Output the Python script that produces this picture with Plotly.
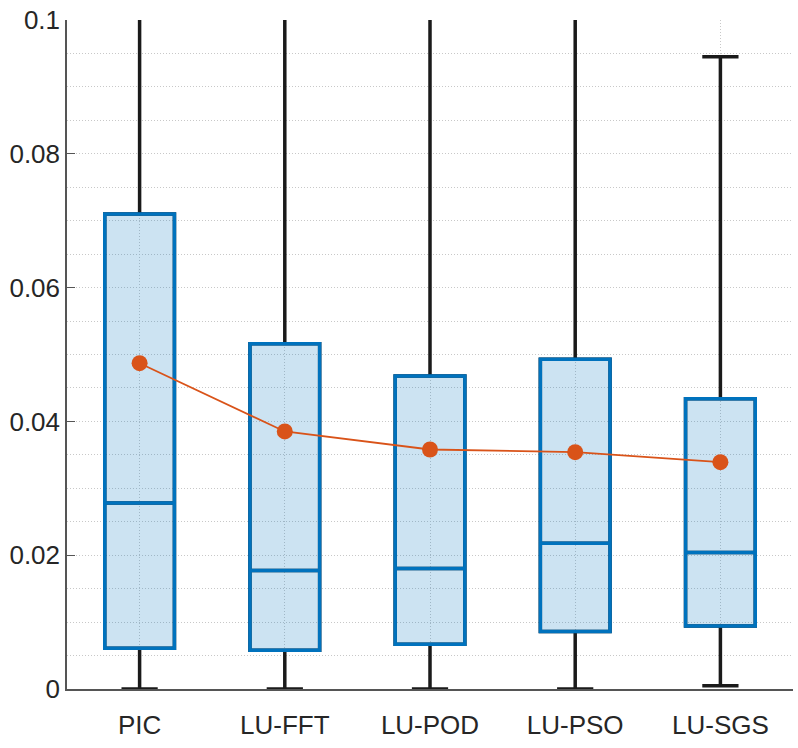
import plotly.graph_objects as go

# Solver variants and their error statistics
methods = ["PIC", "LU-FFT", "LU-POD", "LU-PSO", "LU-SGS"]
q1 = [0.0061, 0.0058, 0.0067, 0.0086, 0.0094]
median = [0.0278, 0.0177, 0.0180, 0.0218, 0.0204]
q3 = [0.0710, 0.0516, 0.0468, 0.0493, 0.0434]
lower_whisker = [0.0, 0.0, 0.0, 0.0, 0.0005]
upper_whisker = [0.135, 0.125, 0.118, 0.122, 0.0945]
mean = [0.0487, 0.0385, 0.0358, 0.0354, 0.0339]

y_ticks = [0, 0.02, 0.04, 0.06, 0.08, 0.1]
y_tick_text = ["0", "0.02", "0.04", "0.06", "0.08", "0.1"]

xpos = list(range(1, len(methods) + 1))

BLUE = "#0072BD"
ORANGE = "#D95319"
FONT = "Liberation Sans, Arial, sans-serif"

fig = go.Figure()

# Black whiskers and caps (box body left transparent)
fig.add_trace(go.Box(
    x=xpos, q1=q1, median=median, q3=q3,
    lowerfence=lower_whisker, upperfence=upper_whisker,
    width=0.48, whiskerwidth=0.52,
    line=dict(color="#1a1a1a", width=3.5),
    fillcolor="rgba(0,0,0,0)",
    hoverinfo="skip", showlegend=False,
))

# Blue boxes with translucent fill on top
fig.add_trace(go.Box(
    x=xpos, q1=q1, median=median, q3=q3,
    lowerfence=q1, upperfence=q3,
    width=0.48, whiskerwidth=0,
    line=dict(color=BLUE, width=3.5),
    fillcolor="rgba(0,114,189,0.2)",
    showlegend=False,
))

# Mean values joined by a line
fig.add_trace(go.Scatter(
    x=xpos, y=mean, mode="lines+markers",
    line=dict(color=ORANGE, width=1.8),
    marker=dict(color=ORANGE, size=16),
    showlegend=False,
))

grid_color = "#c8c8c8"
grid_dash = "1px,2px"

fig.update_layout(
    width=798, height=748,
    margin=dict(l=67, r=5, t=16, b=59),
    plot_bgcolor="white", paper_bgcolor="white",
    font=dict(family=FONT, size=26, color="#262626"),
    boxmode="overlay",
)

fig.update_xaxes(
    range=[0.5, 5.5],
    tickmode="array", tickvals=xpos, ticktext=methods,
    showgrid=True, gridcolor=grid_color, griddash=grid_dash, gridwidth=1,
    showline=True, linecolor="#555555", linewidth=1.5,
    ticks="", zeroline=False, ticklabelstandoff=12,
    tickfont=dict(size=26),
)

fig.update_yaxes(
    range=[0, 0.1],
    tickmode="array", tickvals=y_ticks, ticktext=y_tick_text,
    showgrid=True, gridcolor=grid_color, griddash=grid_dash, gridwidth=1,
    minor=dict(dtick=0.005, showgrid=True, gridcolor=grid_color,
               griddash=grid_dash, gridwidth=1),
    showline=True, linecolor="#555555", linewidth=1.5,
    ticks="inside", ticklen=8, tickcolor="#555555",
    zeroline=False,
    tickfont=dict(size=26),
)

fig.write_html("out.html")
